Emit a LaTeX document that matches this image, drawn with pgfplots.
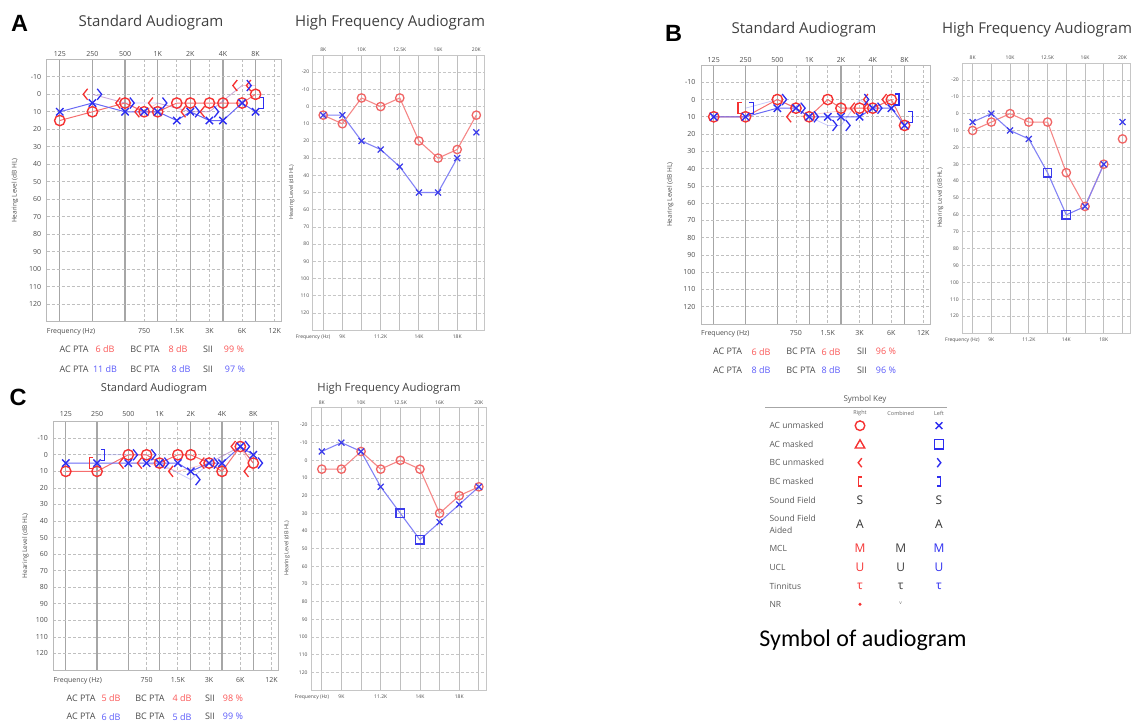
\documentclass[border=0pt]{standalone}
\usepackage{pgfplots}
\pgfplotsset{compat=1.18}
\usepackage{fontspec}
\setmainfont{Open Sans}
\newfontfamily\arialb{Liberation Sans}
\newfontfamily\calib{Carlito}

\definecolor{redM}{RGB}{245,50,50}
\definecolor{bluM}{RGB}{45,45,240}
\definecolor{redLn}{RGB}{245,110,110}
\definecolor{bluLn}{RGB}{105,105,245}
\definecolor{redH}{RGB}{240,100,100}
\definecolor{redHL}{RGB}{245,135,135}
\definecolor{bluH}{RGB}{60,60,235}
\definecolor{bluHL}{RGB}{130,130,245}
\definecolor{redV}{RGB}{250,85,85}
\definecolor{bluV}{RGB}{90,90,250}
\definecolor{txt}{RGB}{75,75,75}

% audiogram symbols
\pgfdeclareplotmark{lt}{%
  \pgfpathmoveto{\pgfqpoint{0.4\pgfplotmarksize}{\pgfplotmarksize}}%
  \pgfpathlineto{\pgfqpoint{-0.4\pgfplotmarksize}{0pt}}%
  \pgfpathlineto{\pgfqpoint{0.4\pgfplotmarksize}{-\pgfplotmarksize}}%
  \pgfusepathqstroke}
\pgfdeclareplotmark{gt}{%
  \pgfpathmoveto{\pgfqpoint{-0.4\pgfplotmarksize}{\pgfplotmarksize}}%
  \pgfpathlineto{\pgfqpoint{0.4\pgfplotmarksize}{0pt}}%
  \pgfpathlineto{\pgfqpoint{-0.4\pgfplotmarksize}{-\pgfplotmarksize}}%
  \pgfusepathqstroke}
\pgfdeclareplotmark{lbr}{%
  \pgfpathmoveto{\pgfqpoint{0.4\pgfplotmarksize}{\pgfplotmarksize}}%
  \pgfpathlineto{\pgfqpoint{-0.3\pgfplotmarksize}{\pgfplotmarksize}}%
  \pgfpathlineto{\pgfqpoint{-0.3\pgfplotmarksize}{-\pgfplotmarksize}}%
  \pgfpathlineto{\pgfqpoint{0.4\pgfplotmarksize}{-\pgfplotmarksize}}%
  \pgfusepathqstroke}
\pgfdeclareplotmark{rbr}{%
  \pgfpathmoveto{\pgfqpoint{-0.4\pgfplotmarksize}{\pgfplotmarksize}}%
  \pgfpathlineto{\pgfqpoint{0.3\pgfplotmarksize}{\pgfplotmarksize}}%
  \pgfpathlineto{\pgfqpoint{0.3\pgfplotmarksize}{-\pgfplotmarksize}}%
  \pgfpathlineto{\pgfqpoint{-0.4\pgfplotmarksize}{-\pgfplotmarksize}}%
  \pgfusepathqstroke}

\tikzset{
  tk/.style={font=\fontsize{7}{8}\selectfont, text=txt, inner sep=0pt},
  tkh/.style={font=\fontsize{5}{6}\selectfont, text=txt, inner sep=0pt},
  pt/.style={font=\fontsize{9}{10}\selectfont, text=txt, inner sep=0pt},
  ttl/.style={font=\fontsize{15}{17}\selectfont, text=black!75, inner sep=0pt},
  kl/.style={font=\fontsize{8.5}{11.7}\selectfont, text=black!65, inner sep=0pt, anchor=west, align=left},
  ks/.style={font=\fontsize{12}{13}\selectfont, inner sep=0pt},
}

\pgfplotsset{
  acR/.style={redLn, line width=1pt, mark=o, mark size=5.2pt, mark options={redM, line width=1.4pt, solid}},
  acL/.style={bluLn, line width=1pt, mark=x, mark size=5.2pt, mark options={bluM, line width=1.4pt, solid}},
  bcRm/.style={redM, line width=1.3pt, only marks, mark=lt, mark size=5.5pt, mark options={xshift=-7pt}},
  bcLm/.style={bluM, line width=1.3pt, only marks, mark=gt, mark size=5.5pt, mark options={xshift=7pt}},
  bcRl/.style={redLn, opacity=0.35, line width=0.8pt, no marks},
  bcLl/.style={bluLn, opacity=0.35, line width=0.8pt, no marks},
  mkR/.style={redM, line width=1.4pt, only marks, mark=lbr, mark size=5.5pt, mark options={xshift=-6pt}},
  mkL/.style={bluM, line width=1.4pt, only marks, mark=rbr, mark size=5.5pt, mark options={xshift=6pt}},
  hR/.style={redHL, line width=1.1pt, mark=o, mark size=4.2pt, mark options={redH, line width=1.3pt, solid}},
  hLl/.style={bluHL, line width=1.1pt, no marks},
  hLx/.style={bluH, line width=1.2pt, only marks, mark=x, mark size=4.2pt},
  hLs/.style={bluH, line width=1.4pt, only marks, mark=square, mark size=4.2pt},
}

\newcommand\stdlab[2]{%
  \node[tk,anchor=south,yshift=#1] at (axis cs:125,-20) {125};
  \node[tk,anchor=south,yshift=#1] at (axis cs:250,-20) {250};
  \node[tk,anchor=south,yshift=#1] at (axis cs:500,-20) {500};
  \node[tk,anchor=south,yshift=#1] at (axis cs:1000,-20) {1K};
  \node[tk,anchor=south,yshift=#1] at (axis cs:2000,-20) {2K};
  \node[tk,anchor=south,yshift=#1] at (axis cs:4000,-20) {4K};
  \node[tk,anchor=south,yshift=#1] at (axis cs:8000,-20) {8K};
  \node[tk,anchor=north west,yshift=#2] at (axis cs:94.7,130) {Frequency (Hz)};
  \node[tk,anchor=north,yshift=#2] at (axis cs:750,130) {750};
  \node[tk,anchor=north,yshift=#2] at (axis cs:1500,130) {1.5K};
  \node[tk,anchor=north,yshift=#2] at (axis cs:3000,130) {3K};
  \node[tk,anchor=north,yshift=#2] at (axis cs:6000,130) {6K};
  \node[tk,anchor=north,yshift=#2] at (axis cs:12000,130) {12K};
}
\newcommand\hflab[2]{%
  \node[tkh,anchor=south,yshift=#1] at (axis cs:0,-30) {8K};
  \node[tkh,anchor=south,yshift=#1] at (axis cs:2,-30) {10K};
  \node[tkh,anchor=south,yshift=#1] at (axis cs:4,-30) {12.5K};
  \node[tkh,anchor=south,yshift=#1] at (axis cs:6,-30) {16K};
  \node[tkh,anchor=south,yshift=#1] at (axis cs:8,-30) {20K};
  \node[tkh,anchor=north east,yshift=#2] at (axis cs:0.38,130) {Frequency (Hz)};
  \node[tkh,anchor=north,yshift=#2] at (axis cs:1,130) {9K};
  \node[tkh,anchor=north,yshift=#2] at (axis cs:3,130) {11.2K};
  \node[tkh,anchor=north,yshift=#2] at (axis cs:5,130) {14K};
  \node[tkh,anchor=north,yshift=#2] at (axis cs:7,130) {18K};
}

\begin{document}
\begin{tikzpicture}
\path[use as bounding box] (0pt,0pt) rectangle (1136pt,723pt);

% ================= A : standard
\begin{axis}[xmode=log,
  scale only axis, anchor=south west, clip=false,
  at={(46.7pt,401.3pt)}, width=235pt, height=262.4pt,
  xmin=94.7, xmax=13929, ymin=-20, ymax=130, y dir=reverse,
  xtick={125,250,500,1000,2000,4000,8000}, xticklabels={},
  minor xtick={750,1500,3000,6000,12000},
  ytick={-10,0,...,120}, minor ytick={-10,0,...,120},
  xmajorgrids, xminorgrids, yminorgrids,
  major grid style={gray!70, line width=1.2pt},
  minor grid style={densely dashed, gray!50, line width=0.7pt},
  major tick length=0pt, minor tick length=0pt,
  axis line style={gray!55, line width=0.9pt},
  /pgf/number format/assume math mode=true,
  yticklabel style={font=\fontsize{7}{8}\selectfont, text=txt, xshift=-2pt},
  ylabel={Hearing Level (dB HL)},
  ylabel style={font=\fontsize{6.5}{7}\selectfont, text=txt, anchor=center, at={(axis description cs:-0.135,0.5)}}]
\stdlab{3pt}{-6.5pt}
\addplot[bcRl] coordinates {(250,0)(500,5)(750,10)(1000,5)(2000,10)(3000,10)(6000,-5)(8000,-5)};
\addplot[bcLl] coordinates {(250,0)(500,5)(1000,5)(2000,10)(3000,10)(6000,-5)};
\addplot[bcRm] coordinates {(250,0)(500,5)(750,10)(1000,5)(2000,10)(3000,10)(6000,-5)(8000,-5)};
\addplot[bcLm] coordinates {(250,0)(500,5)(1000,5)(2000,10)(3000,10)(6000,-5)};
\addplot[mkL] coordinates {(8000,5)};
\addplot[acR] coordinates {(125,15)(250,10)(500,5)(750,10)(1000,10)(1500,5)(2000,5)(3000,5)(4000,5)(6000,5)(8000,0)};
\addplot[acL] coordinates {(125,10)(250,5)(500,10)(750,10)(1000,10)(1500,15)(2000,10)(3000,15)(4000,15)(6000,5)(8000,10)};
\end{axis}

% ================= A : high frequency
\begin{axis}[scale only axis, anchor=south west, clip=false,
  at={(312.7pt,393pt)}, width=171.3pt, height=275pt,
  xmin=-0.55, xmax=8.4, ymin=-30, ymax=130, y dir=reverse,
  xtick={0,...,8}, xticklabels={},
  ytick={-20,-10,...,120}, minor ytick={-20,-10,...,120},
  xmajorgrids, yminorgrids,
  major grid style={gray!50, line width=0.9pt},
  minor grid style={densely dashed, gray!45, line width=0.6pt},
  major tick length=0pt, minor tick length=0pt,
  axis line style={gray!45, line width=0.7pt},
  /pgf/number format/assume math mode=true,
  yticklabel style={font=\fontsize{5}{6}\selectfont, text=txt},
  ylabel={Hearing Level (dB HL)},
  ylabel style={font=\fontsize{5.5}{6}\selectfont, text=txt, anchor=center, at={(axis description cs:-0.123,0.5)}}]
\hflab{3pt}{-5pt}
\addplot[hR] coordinates {(0,5)(1,10)(2,-5)(3,0)(4,-5)(5,20)(6,30)(7,25)(8,5)};
\addplot[hLl] coordinates {(0,5)(1,5)(2,20)(3,25)(4,35)(5,50)(6,50)(7,30)};
\addplot[hLx] coordinates {(0,5)(1,5)(2,20)(3,25)(4,35)(5,50)(6,50)(7,30)(8,15)};
\end{axis}

% ================= B : standard
\begin{axis}[xmode=log,
  scale only axis, anchor=south west, clip=false,
  at={(701pt,399pt)}, width=229pt, height=259pt,
  xmin=94.7, xmax=13929, ymin=-20, ymax=130, y dir=reverse,
  xtick={125,250,500,1000,2000,4000,8000}, xticklabels={},
  minor xtick={750,1500,3000,6000,12000},
  ytick={-10,0,...,120}, minor ytick={-10,0,...,120},
  xmajorgrids, xminorgrids, yminorgrids,
  major grid style={gray!70, line width=1.2pt},
  minor grid style={densely dashed, gray!50, line width=0.7pt},
  major tick length=0pt, minor tick length=0pt,
  axis line style={gray!55, line width=0.9pt},
  /pgf/number format/assume math mode=true,
  yticklabel style={font=\fontsize{7}{8}\selectfont, text=txt, xshift=-2pt},
  ylabel={Hearing Level (dB HL)},
  ylabel style={font=\fontsize{6.5}{7}\selectfont, text=txt, anchor=center, at={(axis description cs:-0.135,0.5)}}]
\stdlab{2.5pt}{-6pt}
\addplot[bcRl] coordinates {(750,10)(3000,5)(4000,5)(6000,0)};
\addplot[bcLl] coordinates {(250,5)(500,0)(750,5)(1000,10)(1500,15)(2000,15)(3000,0)(4000,5)};
\addplot[bcRm] coordinates {(750,10)(3000,5)(4000,5)(4000,0)(6000,0)};
\addplot[bcLm] coordinates {(500,0)(750,5)(1000,10)(1500,15)(2000,15)(3000,0)(4000,5)};
\addplot[mkR] coordinates {(250,5)};
\addplot[mkL] coordinates {(250,5)(6000,0)(8000,10)};
\addplot[acR] coordinates {(125,10)(250,10)(500,0)(750,5)(1000,10)(1500,0)(2000,5)(3000,5)(4000,5)(6000,0)(8000,15)};
\addplot[acL] coordinates {(125,10)(250,10)(500,5)(750,5)(1000,10)(1500,10)(2000,10)(3000,10)(4000,5)(6000,5)(8000,15)};
\end{axis}

% ================= B : high frequency
\begin{axis}[scale only axis, anchor=south west, clip=false,
  at={(962.3pt,390pt)}, width=167.7pt, height=270pt,
  xmin=-0.55, xmax=8.4, ymin=-30, ymax=130, y dir=reverse,
  xtick={0,...,8}, xticklabels={},
  ytick={-20,-10,...,120}, minor ytick={-20,-10,...,120},
  xmajorgrids, yminorgrids,
  major grid style={gray!50, line width=0.9pt},
  minor grid style={densely dashed, gray!45, line width=0.6pt},
  major tick length=0pt, minor tick length=0pt,
  axis line style={gray!45, line width=0.7pt},
  /pgf/number format/assume math mode=true,
  yticklabel style={font=\fontsize{5}{6}\selectfont, text=txt},
  ylabel={Hearing Level (dB HL)},
  ylabel style={font=\fontsize{6}{7}\selectfont, text=txt, anchor=center, at={(axis description cs:-0.131,0.5)}}]
\hflab{3pt}{-5pt}
\addplot[hR] coordinates {(0,10)(1,5)(2,0)(3,5)(4,5)(5,35)(6,55)(7,30)};
\addplot[hR, only marks] coordinates {(8,15)};
\addplot[hLl] coordinates {(0,5)(1,0)(2,10)(3,15)(4,35)(5,60)(6,55)(7,30)};
\addplot[hLx] coordinates {(0,5)(1,0)(2,10)(3,15)(6,55)(7,30)(8,5)};
\addplot[hLs] coordinates {(4,35)(5,60)};
\end{axis}

% ================= C : standard
\begin{axis}[xmode=log,
  scale only axis, anchor=south west, clip=false,
  at={(53.3pt,53pt)}, width=225pt, height=248.3pt,
  xmin=94.7, xmax=13929, ymin=-20, ymax=130, y dir=reverse,
  xtick={125,250,500,1000,2000,4000,8000}, xticklabels={},
  minor xtick={750,1500,3000,6000,12000},
  ytick={-10,0,...,120}, minor ytick={-10,0,...,120},
  xmajorgrids, xminorgrids, yminorgrids,
  major grid style={gray!70, line width=1.2pt},
  minor grid style={densely dashed, gray!50, line width=0.7pt},
  major tick length=0pt, minor tick length=0pt,
  axis line style={gray!55, line width=0.9pt},
  /pgf/number format/assume math mode=true,
  yticklabel style={font=\fontsize{7}{8}\selectfont, text=txt, xshift=-2pt},
  ylabel={Hearing Level (dB HL)},
  ylabel style={font=\fontsize{6.5}{7}\selectfont, text=txt, anchor=center, at={(axis description cs:-0.124,0.5)}}]
\stdlab{5pt}{-7.5pt}
\addplot[bcRl] coordinates {(500,5)(750,5)(1500,10)(3000,5)(6000,-5)(8000,10)};
\addplot[bcLl] coordinates {(250,0)(500,0)(750,0)(1000,5)(2000,15)(3000,5)(6000,-5)(8000,5)};
\addplot[bcRm] coordinates {(500,5)(750,5)(1500,10)(3000,5)(6000,-5)(8000,10)};
\addplot[bcLm] coordinates {(500,0)(750,0)(1000,5)(2000,15)(3000,5)(6000,-5)(8000,5)};
\addplot[mkR] coordinates {(250,5)};
\addplot[mkL] coordinates {(250,0)};
\addplot[acR] coordinates {(125,10)(250,10)(500,0)(750,0)(1000,5)(1500,0)(2000,0)(3000,5)(4000,10)(6000,-5)(8000,5)};
\addplot[acL] coordinates {(125,5)(250,5)(500,5)(750,5)(1000,5)(1500,5)(2000,10)(3000,5)(4000,5)(6000,-5)(8000,0)};
\end{axis}

% ================= C : high frequency
\begin{axis}[scale only axis, anchor=south west, clip=false,
  at={(311pt,33pt)}, width=175.7pt, height=282.7pt,
  xmin=-0.55, xmax=8.4, ymin=-30, ymax=130, y dir=reverse,
  xtick={0,...,8}, xticklabels={},
  ytick={-20,-10,...,120}, minor ytick={-20,-10,...,120},
  xmajorgrids, yminorgrids,
  major grid style={gray!50, line width=0.9pt},
  minor grid style={densely dashed, gray!45, line width=0.6pt},
  major tick length=0pt, minor tick length=0pt,
  axis line style={gray!45, line width=0.7pt},
  /pgf/number format/assume math mode=true,
  yticklabel style={font=\fontsize{5}{6}\selectfont, text=txt},
  ylabel={Hearing Level (dB HL)},
  ylabel style={font=\fontsize{5.5}{6}\selectfont, text=txt, anchor=center, at={(axis description cs:-0.137,0.5)}}]
\hflab{2.5pt}{-5pt}
\addplot[hR] coordinates {(0,5)(1,5)(2,-5)(3,5)(4,0)(5,5)(6,30)(7,20)(8,15)};
\addplot[hLl] coordinates {(0,-5)(1,-10)(2,-5)(3,15)(4,30)(5,45)(6,35)(7,25)(8,15)};
\addplot[hLx] coordinates {(0,-5)(1,-10)(2,-5)(3,15)(6,35)(7,25)(8,15)};
\addplot[hLs] coordinates {(4,30)(5,45)};
\end{axis}

% ================= symbol key
\begin{axis}[at={(750pt,103pt)}, anchor=south west, scale only axis,
  width=250pt, height=235pt, xmin=750, xmax=1000, ymin=385, ymax=620,
  y dir=reverse, hide axis, clip=false]
\draw[gray!70, line width=1.5pt] (axis cs:765,407.7) -- (axis cs:946.7,407.7);
\node[font=\fontsize{8}{9}\selectfont, text=black!65] at (axis cs:865,399) {Symbol Key};
\node[font=\fontsize{5.5}{6}\selectfont, text=black!60] at (axis cs:860,413.3) {Right};
\node[font=\fontsize{5.5}{6}\selectfont, text=black!60] at (axis cs:900.7,413.3) {Combined};
\node[font=\fontsize{5.5}{6}\selectfont, text=black!60] at (axis cs:939,413.3) {Left};
\node[kl] at (axis cs:769.3,425.7) {AC unmasked};
\node[kl] at (axis cs:769.3,444.3) {AC masked};
\node[kl] at (axis cs:769.3,462.7) {BC unmasked};
\node[kl] at (axis cs:769.3,481.3) {BC masked};
\node[kl] at (axis cs:769.3,500) {Sound Field};
\node[kl] at (axis cs:769.3,524.2) {Sound Field\\Aided};
\node[kl] at (axis cs:769.3,548.3) {MCL};
\node[kl] at (axis cs:769.3,567.7) {UCL};
\node[kl] at (axis cs:769.3,586) {Tinnitus};
\node[kl] at (axis cs:769.3,604.3) {NR};
\addplot[only marks, mark=o, mark size=4.8pt, redM, line width=1.4pt] coordinates {(860,425.7)};
\addplot[only marks, mark=triangle, mark size=5.5pt, redM, line width=1.4pt] coordinates {(860,445.3)};
\addplot[only marks, mark=lt, mark size=4.5pt, redM, line width=1.4pt] coordinates {(860,462.7)};
\addplot[only marks, mark=lbr, mark size=4.5pt, redM, line width=1.6pt] coordinates {(860,481.3)};
\addplot[only marks, mark=x, mark size=4.8pt, bluM, line width=1.4pt] coordinates {(939,425.7)};
\addplot[only marks, mark=square, mark size=4.6pt, bluM, line width=1.6pt] coordinates {(939,444.3)};
\addplot[only marks, mark=gt, mark size=4.5pt, bluM, line width=1.4pt] coordinates {(939,462.7)};
\addplot[only marks, mark=rbr, mark size=4.5pt, bluM, line width=1.6pt] coordinates {(939,481.3)};
\addplot[only marks, mark=*, mark size=1.4pt, redM] coordinates {(860,604.3)};
\node[ks, text=black!80] at (axis cs:860,500) {S};
\node[ks, text=black!80] at (axis cs:939,500) {S};
\node[ks, text=black!80] at (axis cs:860,524.3) {A};
\node[ks, text=black!80] at (axis cs:939,524.3) {A};
\node[ks, text=redM] at (axis cs:860,548.3) {M};
\node[ks, text=black!75] at (axis cs:900.7,548.3) {M};
\node[ks, text=bluM] at (axis cs:939,548.3) {M};
\node[ks, text=redM] at (axis cs:860,567.7) {U};
\node[ks, text=black!75] at (axis cs:900.7,567.7) {U};
\node[ks, text=bluM] at (axis cs:939,567.7) {U};
\node[ks, text=redM] at (axis cs:860,586) {τ};
\node[ks, text=black!75] at (axis cs:900.7,586) {τ};
\node[ks, text=bluM] at (axis cs:939,586) {τ};
\node[font=\fontsize{5}{6}\selectfont, text=black!55] at (axis cs:900.7,603) {v};
\end{axis}

% ================= titles, letters, summaries
\node[font=\arialb\bfseries\fontsize{23.5}{25}\selectfont, inner sep=0pt] at (19.5pt,699.5pt) {A};
\node[font=\arialb\bfseries\fontsize{23.5}{25}\selectfont, inner sep=0pt] at (673.5pt,689.5pt) {B};
\node[font=\arialb\bfseries\fontsize{23.5}{25}\selectfont, inner sep=0pt] at (18pt,325.5pt) {C};

\node[ttl] at (151pt,700.3pt) {Standard Audiogram};
\node[ttl] at (390pt,700.3pt) {High Frequency Audiogram};
\node[ttl] at (804pt,693pt) {Standard Audiogram};
\node[ttl] at (1037pt,693pt) {High Frequency Audiogram};
\node[ttl, font=\fontsize{11}{12}\selectfont] at (154pt,334.7pt) {Standard Audiogram};
\node[ttl, font=\fontsize{11.3}{12}\selectfont] at (389pt,334.7pt) {High Frequency Audiogram};

% A summary
\node[pt] at (74pt,374pt) {AC PTA};
\node[pt, text=redV] at (105pt,374pt) {6 dB};
\node[pt] at (145pt,374pt) {BC PTA};
\node[pt, text=redV] at (178pt,374pt) {8 dB};
\node[pt] at (208pt,374pt) {SII};
\node[pt, text=redV] at (234pt,374pt) {99 \%};
\node[pt] at (74pt,354pt) {AC PTA};
\node[pt, text=bluV] at (105pt,354pt) {11 dB};
\node[pt] at (145pt,354pt) {BC PTA};
\node[pt, text=bluV] at (181pt,354pt) {8 dB};
\node[pt] at (208pt,354pt) {SII};
\node[pt, text=bluV] at (235pt,354pt) {97 \%};
% B summary
\node[pt] at (727.5pt,371.3pt) {AC PTA};
\node[pt, text=redV] at (761pt,371.3pt) {6 dB};
\node[pt] at (801pt,371.3pt) {BC PTA};
\node[pt, text=redV] at (831pt,371.3pt) {6 dB};
\node[pt] at (862pt,371.3pt) {SII};
\node[pt, text=redV] at (886pt,371.3pt) {96 \%};
\node[pt] at (727.5pt,353pt) {AC PTA};
\node[pt, text=bluV] at (761pt,353pt) {8 dB};
\node[pt] at (801pt,353pt) {BC PTA};
\node[pt, text=bluV] at (831pt,353pt) {8 dB};
\node[pt] at (862pt,353pt) {SII};
\node[pt, text=bluV] at (886pt,353pt) {96 \%};
% C summary
\node[pt] at (81pt,24.7pt) {AC PTA};
\node[pt, text=redV] at (111pt,24.7pt) {5 dB};
\node[pt] at (150pt,24.7pt) {BC PTA};
\node[pt, text=redV] at (182pt,24.7pt) {4 dB};
\node[pt] at (210pt,24.7pt) {SII};
\node[pt, text=redV] at (233pt,24.7pt) {98 \%};
\node[pt] at (81pt,6.3pt) {AC PTA};
\node[pt, text=bluV] at (111pt,6.3pt) {6 dB};
\node[pt] at (150pt,6.3pt) {BC PTA};
\node[pt, text=bluV] at (182pt,6.3pt) {5 dB};
\node[pt] at (210pt,6.3pt) {SII};
\node[pt, text=bluV] at (233pt,6.3pt) {99 \%};

\node[font=\calib\fontsize{24}{26}\selectfont, inner sep=0pt] at (863pt,83pt) {Symbol of audiogram};
\end{tikzpicture}
\end{document}
